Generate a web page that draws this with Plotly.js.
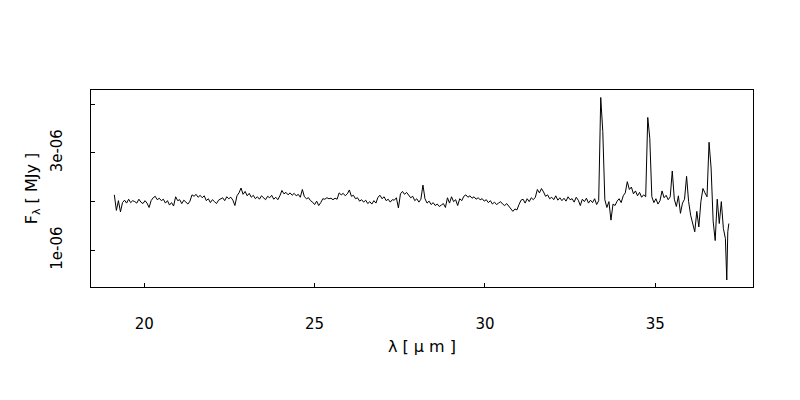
<!DOCTYPE html>
<html>
<head>
<meta charset="utf-8">
<script src="https://cdn.plot.ly/plotly-3.0.1.min.js"></script>
<style>html,body{margin:0;padding:0;background:#fff;}#chart{width:800px;height:400px;}</style>
</head>
<body>
<div id="chart"></div>
<script>
// wavelength in micrometres
const wavelength = [
19.12,19.18,19.24,19.30,19.36,19.42,19.48,19.54,19.60,19.66,
19.72,19.78,19.84,19.90,19.96,20.02,20.08,20.14,20.20,20.26,
20.32,20.38,20.44,20.50,20.56,20.62,20.68,20.74,20.80,20.86,
20.92,20.98,21.04,21.10,21.16,21.22,21.28,21.34,21.40,21.46,
21.52,21.58,21.64,21.70,21.76,21.82,21.88,21.94,22.00,22.06,
22.12,22.18,22.24,22.30,22.36,22.42,22.48,22.54,22.60,22.66,
22.72,22.78,22.84,22.90,22.96,23.02,23.08,23.14,23.20,23.26,
23.32,23.38,23.44,23.50,23.56,23.62,23.68,23.74,23.80,23.86,
23.92,23.98,24.04,24.10,24.16,24.22,24.28,24.34,24.40,24.46,
24.52,24.58,24.64,24.70,24.76,24.82,24.88,24.94,25.00,25.06,
25.12,25.18,25.24,25.30,25.36,25.42,25.48,25.54,25.60,25.66,
25.72,25.78,25.84,25.90,25.96,26.02,26.08,26.14,26.20,26.26,
26.32,26.38,26.44,26.50,26.56,26.62,26.68,26.74,26.80,26.86,
26.92,26.98,27.04,27.10,27.16,27.22,27.28,27.34,27.40,27.46,
27.52,27.58,27.64,27.70,27.76,27.82,27.88,27.94,28.00,28.06,
28.12,28.18,28.24,28.30,28.36,28.42,28.48,28.54,28.60,28.66,
28.72,28.78,28.84,28.90,28.96,29.02,29.08,29.14,29.20,29.26,
29.32,29.38,29.44,29.50,29.56,29.62,29.68,29.74,29.80,29.86,
29.92,29.98,30.04,30.10,30.16,30.22,30.28,30.34,30.40,30.46,
30.52,30.58,30.64,30.70,30.76,30.82,30.88,30.94,31.00,31.06,
31.12,31.18,31.24,31.30,31.36,31.42,31.48,31.54,31.60,31.66,
31.72,31.78,31.84,31.90,31.96,32.02,32.08,32.14,32.20,32.26,
32.32,32.38,32.44,32.50,32.56,32.62,32.68,32.74,32.80,32.86,
32.92,32.98,33.04,33.10,33.16,33.22,33.28,33.34,33.40,33.46,
33.52,33.58,33.64,33.70,33.76,33.82,33.88,33.94,34.00,34.06,
34.12,34.18,34.24,34.30,34.36,34.42,34.48,34.54,34.60,34.66,
34.72,34.78,34.84,34.90,34.96,35.02,35.08,35.14,35.20,35.26,
35.32,35.38,35.44,35.50,35.56,35.62,35.68,35.74,35.80,35.86,
35.92,35.98,36.04,36.10,36.16,36.22,36.28,36.34,36.40,36.46,
36.52,36.58,36.64,36.70,36.76,36.82,36.88,36.94,37.00,37.06,
37.10,37.13,37.16
];
// flux density in units of 1e-06 MJy
const fluxE6 = [
2.14,1.82,2.02,1.79,1.98,2.03,1.97,2.05,1.98,2.02,
2.00,1.97,2.05,1.99,1.96,2.02,1.97,1.88,2.02,2.08,
2.11,2.04,2.07,2.02,2.05,1.97,2.02,1.93,1.98,1.91,
2.10,2.02,2.04,1.96,2.03,1.99,1.95,2.01,2.14,2.11,
2.15,2.09,2.13,2.08,2.12,2.02,2.06,1.98,2.04,2.00,
1.96,2.03,2.05,2.08,2.02,2.10,2.06,2.09,2.03,1.92,
2.12,2.18,2.28,2.15,2.21,2.12,2.17,2.09,2.13,2.06,
2.10,2.05,2.12,2.07,2.04,2.11,2.08,2.13,2.05,2.09,
2.04,2.12,2.23,2.16,2.19,2.14,2.18,2.13,2.17,2.12,
2.15,2.09,2.25,2.10,2.06,2.08,2.02,1.99,1.94,2.01,
1.92,1.98,2.06,2.05,2.08,2.06,2.07,2.04,2.07,2.05,
2.18,2.14,2.17,2.12,2.16,2.24,2.11,2.13,2.06,2.08,
2.01,2.04,1.99,2.03,1.96,2.00,1.95,2.02,1.97,2.09,
2.13,2.06,2.10,2.02,2.05,1.99,2.04,2.03,2.08,1.87,
2.16,2.21,2.15,2.19,2.14,2.08,2.11,2.02,2.06,1.99,
2.05,2.34,2.06,1.97,2.01,1.94,1.98,1.92,1.95,1.90,
1.93,1.96,1.88,2.08,1.97,2.10,2.00,2.04,1.92,2.06,
2.02,2.11,2.14,2.09,2.12,2.07,2.10,2.05,2.08,2.04,
2.06,2.01,2.04,1.98,2.02,1.95,1.99,1.94,1.97,2.00,
1.95,1.92,1.96,1.90,1.86,1.80,1.85,1.83,1.94,2.03,
2.05,1.97,2.06,2.00,2.08,2.04,2.09,2.25,2.18,2.27,
2.20,2.11,2.14,2.06,2.09,2.04,2.12,2.03,2.08,2.02,
2.07,2.01,2.10,2.04,2.06,1.99,2.09,2.03,1.92,2.05,
2.00,2.07,1.97,2.03,1.98,2.06,1.94,2.02,4.14,3.44,
2.04,1.88,2.00,1.62,1.95,1.92,2.01,2.06,1.98,2.12,
2.18,2.41,2.25,2.30,2.16,2.22,2.12,2.19,2.09,2.14,
2.10,3.73,3.30,2.10,1.98,2.06,1.95,2.02,2.22,2.08,
2.13,2.04,2.10,2.63,2.05,1.90,2.12,1.76,1.97,2.05,
2.52,2.00,1.72,1.57,1.38,1.80,1.48,2.00,2.27,2.18,
2.10,3.22,2.69,1.60,1.20,2.05,1.55,2.00,1.45,1.24,
0.39,1.38,1.55
];
const xTickVals = [20, 25, 30, 35];
const xTickText = ['20', '25', '30', '35'];
const yTickVals = [1e-6, 2e-6, 3e-6, 4e-6];
const yTickText = ['1e-06', '', '3e-06', ''];

const flux = fluxE6.map(v => v * 1e-6);

const fam = 'DejaVu Sans, Liberation Sans, Arial, sans-serif';
const tickFont = {family: fam, size: 15, color: '#000'};
const titleFont = {family: fam, size: 16, color: '#000'};

Plotly.newPlot('chart', [{
  x: wavelength,
  y: flux,
  type: 'scatter',
  mode: 'lines',
  line: {color: '#000', width: 1},
  hoverinfo: 'skip'
}], {
  width: 800,
  height: 400,
  margin: {l: 91, r: 47, t: 90, b: 113, pad: 0},
  paper_bgcolor: '#fff',
  plot_bgcolor: '#fff',
  showlegend: false,
  font: tickFont,
  xaxis: {
    range: [18.435, 37.87],
    tickvals: xTickVals,
    ticktext: xTickText,
    ticks: 'inside',
    ticklen: 4,
    tickcolor: '#000',
    tickwidth: 1,
    showgrid: false,
    zeroline: false,
    showline: true,
    linecolor: '#000',
    linewidth: 1,
    mirror: true,
    ticklabelstandoff: 23,
    tickfont: tickFont,
    title: {text: 'λ [ μ m ]', font: titleFont, standoff: 8}
  },
  yaxis: {
    range: [0.246e-6, 4.294e-6],
    tickvals: yTickVals,
    ticktext: yTickText,
    tickangle: -90,
    ticks: 'inside',
    ticklen: 4,
    tickcolor: '#000',
    tickwidth: 1,
    showgrid: false,
    zeroline: false,
    showline: true,
    linecolor: '#000',
    linewidth: 1,
    mirror: true,
    ticklabelstandoff: 22,
    tickfont: tickFont,
    title: {text: 'F<sub>λ</sub> [ MJy ]', font: titleFont, standoff: 6}
  }
}, {displayModeBar: false, staticPlot: true});
</script>
</body>
</html>
